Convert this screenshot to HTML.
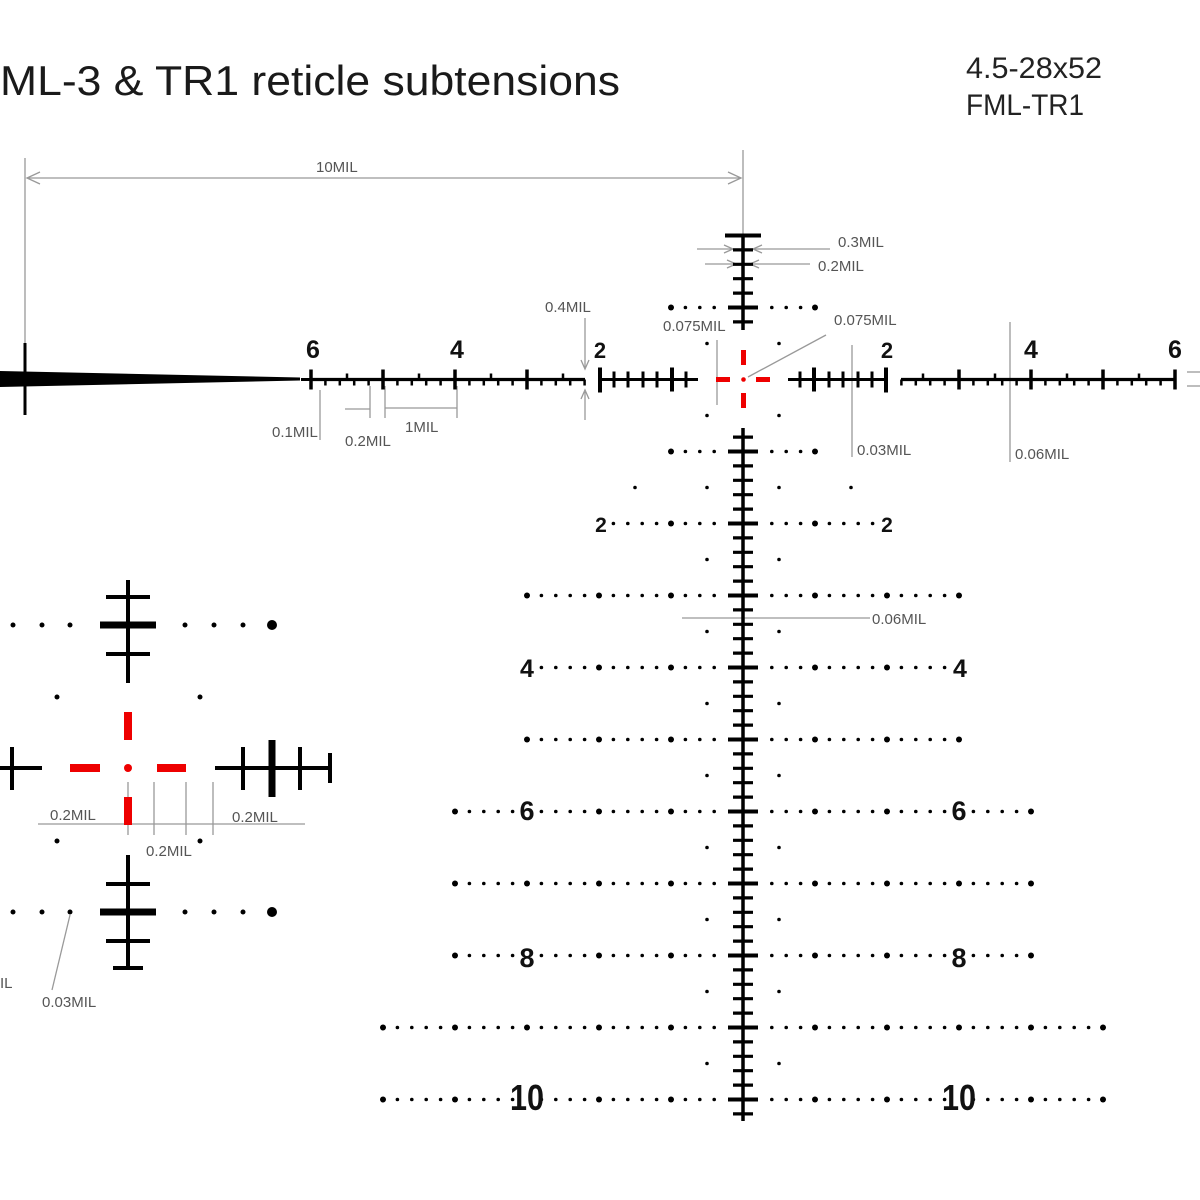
<!DOCTYPE html>
<html><head><meta charset="utf-8"><style>
html,body{margin:0;padding:0;background:#fff;}
svg{display:block;}
.a{font-family:"Liberation Sans Narrow","Liberation Sans",sans-serif;font-size:15px;fill:#555;}
.n{font-family:"Liberation Sans",sans-serif;font-weight:bold;fill:#111;}
</style></head><body>
<svg id="s" width="1200" height="1200" viewBox="0 0 1200 1200" xmlns="http://www.w3.org/2000/svg">
<rect width="1200" height="1200" fill="#fff"/>
<text x="0" y="95" font-family="Liberation Sans, sans-serif" font-size="42" fill="#1a1a1a" textLength="620" lengthAdjust="spacingAndGlyphs">ML-3 &amp; TR1 reticle subtensions</text>
<text x="966" y="78" font-family="Liberation Sans, sans-serif" font-size="30" fill="#222" textLength="136" lengthAdjust="spacingAndGlyphs">4.5-28x52</text>
<text x="966" y="115" font-family="Liberation Sans, sans-serif" font-size="30" fill="#222" textLength="118" lengthAdjust="spacingAndGlyphs">FML-TR1</text>

<g stroke="#999" stroke-width="1.3" fill="none">
<line x1="25" y1="158" x2="25" y2="343"/>
<line x1="743" y1="150" x2="743" y2="235"/>
<line x1="27" y1="178" x2="741" y2="178"/>
<polyline points="40,172 27,178 40,184"/><polyline points="728,172 741,178 728,184"/>
<line x1="697" y1="249" x2="830" y2="249"/>
<polyline points="724,245 733,249 724,253"/><polyline points="762,245 753,249 762,253"/>
<line x1="705" y1="264" x2="810" y2="264"/>
<polyline points="727,260 736,264 727,268"/><polyline points="759,260 750,264 759,268"/>
<line x1="585" y1="318" x2="585" y2="368"/><line x1="585" y1="392" x2="585" y2="420"/>
<polyline points="581,360 585,369 589,360"/><polyline points="581,399 585,390 589,399"/>
<line x1="717" y1="340" x2="717" y2="405"/>
<line x1="826" y1="335" x2="748" y2="377"/>
<line x1="852" y1="345" x2="852" y2="457"/>
<line x1="1010" y1="322" x2="1010" y2="462"/>
<line x1="320" y1="390" x2="320" y2="440"/>
<line x1="345" y1="409" x2="370" y2="409"/><line x1="370" y1="386" x2="370" y2="418"/>
<line x1="385" y1="408" x2="457" y2="408"/><line x1="385" y1="386" x2="385" y2="418"/><line x1="457" y1="386" x2="457" y2="418"/>
<line x1="682" y1="618" x2="870" y2="618"/>
<line x1="38" y1="824" x2="305" y2="824"/>
<line x1="128" y1="782" x2="128" y2="835"/><line x1="154" y1="782" x2="154" y2="835"/>
<line x1="186" y1="782" x2="186" y2="835"/><line x1="213" y1="782" x2="213" y2="835"/>
<line x1="70" y1="915" x2="52" y2="990"/>
<line x1="1187" y1="372" x2="1200" y2="372"/><line x1="1187" y1="386" x2="1200" y2="386"/>
</g>
<g class="a">
<text x="316" y="172">10MIL</text>
<text x="838" y="247">0.3MIL</text>
<text x="818" y="271">0.2MIL</text>
<text x="545" y="312">0.4MIL</text>
<text x="663" y="331">0.075MIL</text>
<text x="834" y="325">0.075MIL</text>
<text x="857" y="455">0.03MIL</text>
<text x="1015" y="459">0.06MIL</text>
<text x="272" y="437">0.1MIL</text>
<text x="345" y="446">0.2MIL</text>
<text x="405" y="432">1MIL</text>
<text x="872" y="624">0.06MIL</text>
<text x="50" y="820">0.2MIL</text>
<text x="232" y="822">0.2MIL</text>
<text x="146" y="856">0.2MIL</text>
<text x="42" y="1007">0.03MIL</text>
<text x="0" y="988">IL</text>
</g>

<polygon points="0,371 300,377.5 300,380.5 0,387" fill="#000"/>
<line x1="25" y1="343" x2="25" y2="415" stroke="#000" stroke-width="3"/>

<g fill="#e00">
<rect x="716" y="377" width="14" height="5"/><rect x="756" y="377" width="14" height="5"/>
<rect x="741" y="350" width="5" height="15"/><rect x="741" y="393" width="5" height="15"/>
<circle cx="743.5" cy="379.5" r="2.3"/>
</g>

<g stroke="#000" fill="none">
<line x1="128" y1="580" x2="128" y2="683" stroke-width="4"/>
<line x1="106" y1="597" x2="150" y2="597" stroke-width="4"/>
<line x1="100" y1="625" x2="156" y2="625" stroke-width="7"/>
<line x1="106" y1="654" x2="150" y2="654" stroke-width="4"/>
<line x1="128" y1="855" x2="128" y2="970" stroke-width="4"/>
<line x1="106" y1="884" x2="150" y2="884" stroke-width="4"/>
<line x1="100" y1="912" x2="156" y2="912" stroke-width="7"/>
<line x1="106" y1="941" x2="150" y2="941" stroke-width="4"/>
<line x1="113" y1="968" x2="143" y2="968" stroke-width="4"/>
<line x1="0" y1="768" x2="42" y2="768" stroke-width="4"/>
<line x1="12" y1="747" x2="12" y2="790" stroke-width="4"/>
<line x1="215" y1="768" x2="332" y2="768" stroke-width="4"/>
<line x1="243" y1="747" x2="243" y2="790" stroke-width="4"/>
<line x1="272" y1="740" x2="272" y2="797" stroke-width="7"/>
<line x1="300" y1="747" x2="300" y2="790" stroke-width="4"/>
<line x1="330" y1="753" x2="330" y2="783" stroke-width="4"/>
</g>
<g fill="#e00">
<rect x="70" y="764" width="30" height="8"/><rect x="157" y="764" width="29" height="8"/>
<rect x="124" y="712" width="8" height="28"/><rect x="124" y="797" width="8" height="28"/>
<circle cx="128" cy="768" r="4"/>
</g>
<g fill="#000">
<circle cx="13" cy="625" r="2.5"/><circle cx="42" cy="625" r="2.5"/><circle cx="70" cy="625" r="2.5"/>
<circle cx="185" cy="625" r="2.5"/><circle cx="214" cy="625" r="2.5"/><circle cx="243" cy="625" r="2.5"/><circle cx="272" cy="625" r="5"/>
<circle cx="13" cy="912" r="2.5"/><circle cx="42" cy="912" r="2.5"/><circle cx="70" cy="912" r="2.5"/>
<circle cx="185" cy="912" r="2.5"/><circle cx="214" cy="912" r="2.5"/><circle cx="243" cy="912" r="2.5"/><circle cx="272" cy="912" r="5"/>
<circle cx="57" cy="697" r="2.5"/><circle cx="200" cy="697" r="2.5"/><circle cx="57" cy="841" r="2.5"/><circle cx="200" cy="841" r="2.5"/>
</g>

<g id="gen"></g>

<g class="n">
<text x="313" y="358" font-size="25" text-anchor="middle">6</text>
<text x="457" y="358" font-size="25" text-anchor="middle">4</text>
<text x="600" y="358" font-size="22" text-anchor="middle">2</text>
<text x="887" y="358" font-size="22" text-anchor="middle">2</text>
<text x="1031" y="358" font-size="25" text-anchor="middle">4</text>
<text x="1175" y="358" font-size="25" text-anchor="middle">6</text>
<text x="601" y="532" font-size="21" text-anchor="middle">2</text>
<text x="887" y="532" font-size="21" text-anchor="middle">2</text>
<text x="527" y="677" font-size="25" text-anchor="middle">4</text>
<text x="960" y="677" font-size="25" text-anchor="middle">4</text>
<text x="527" y="820" font-size="27" text-anchor="middle">6</text>
<text x="959" y="820" font-size="27" text-anchor="middle">6</text>
<text x="527" y="967" font-size="27" text-anchor="middle">8</text>
<text x="959" y="967" font-size="27" text-anchor="middle">8</text>
<text x="527" y="1110" font-size="36" text-anchor="middle" textLength="34" lengthAdjust="spacingAndGlyphs">10</text>
<text x="959" y="1110" font-size="36" text-anchor="middle" textLength="34" lengthAdjust="spacingAndGlyphs">10</text>
</g>
</svg>
<script>
(function(){
var g=document.getElementById('gen'),s='';
var cx=743,cy=379.5,m=72,d=14.4;
function L(x1,y1,x2,y2,w){s+='<line x1="'+x1+'" y1="'+y1+'" x2="'+x2+'" y2="'+y2+'" stroke="#000" stroke-width="'+w+'"/>';}
function C(x,y,r){s+='<circle cx="'+x+'" cy="'+y+'" r="'+r+'" fill="#000"/>';}
L(cx,235,cx,330,3.5); L(cx,428,cx,1121,3.5);
for(var k=-10;k<=51;k++){ if(k>-4&&k<4)continue;
 var y=cy+k*d; var hw;
 if(k==-10)hw=18; else if(k%5==0)hw=15; else hw=10;
 L(cx-hw,y,cx+hw,y,k%5==0?4:3.2);}
var rows=[[-1,5,0],[1,5,0],[2,10,10],[3,15,0],[4,15,15],[5,15,0],[6,20,15],[7,20,0],[8,20,15],[9,25,0],[10,25,15]];
rows.forEach(function(r){var y=cy+r[0]*m;
 for(var k=-r[1];k<=r[1];k++){ if(Math.abs(k)<2)continue; if(r[2]&&Math.abs(k)==r[2])continue;
  C(cx+k*d,y,k%5==0?3:1.8);} });
for(var h=-1;h<=9;h++){ var y=cy+(h+0.5)*m;
 var ks=[2.5]; if(h==1)ks=[2.5,7.5];
 ks.forEach(function(k){C(cx-k*d,y,1.8);C(cx+k*d,y,1.8);});}
[-1,1].forEach(function(sg){
 L(cx+sg*45,cy,cx+sg*143,cy,3);
 L(cx+sg*143,cy-12,cx+sg*143,cy+13,4);
 [57,71,86,100,115,129].forEach(function(o){ var big=(o==71); L(cx+sg*o,cy-(big?12:8),cx+sg*o,cy+(big?12:8),big?4:3);});
 L(cx+sg*158,cy,cx+sg*432,cy,3.2);
 for(var k=11;k<=30;k++){var x=cx+sg*k*d;
  if(k%5==0){L(x,cy-10,x,cy+10,3.5);} else {L(x,cy,x,cy+6,2.5);}}
 for(var k=12.5;k<30;k+=5){var x=cx+sg*k*d; L(x,cy-6,x,cy,2.5);}
});
L(301,cy,313,cy,3);
g.innerHTML=s;
})();
</script>
</body></html>
